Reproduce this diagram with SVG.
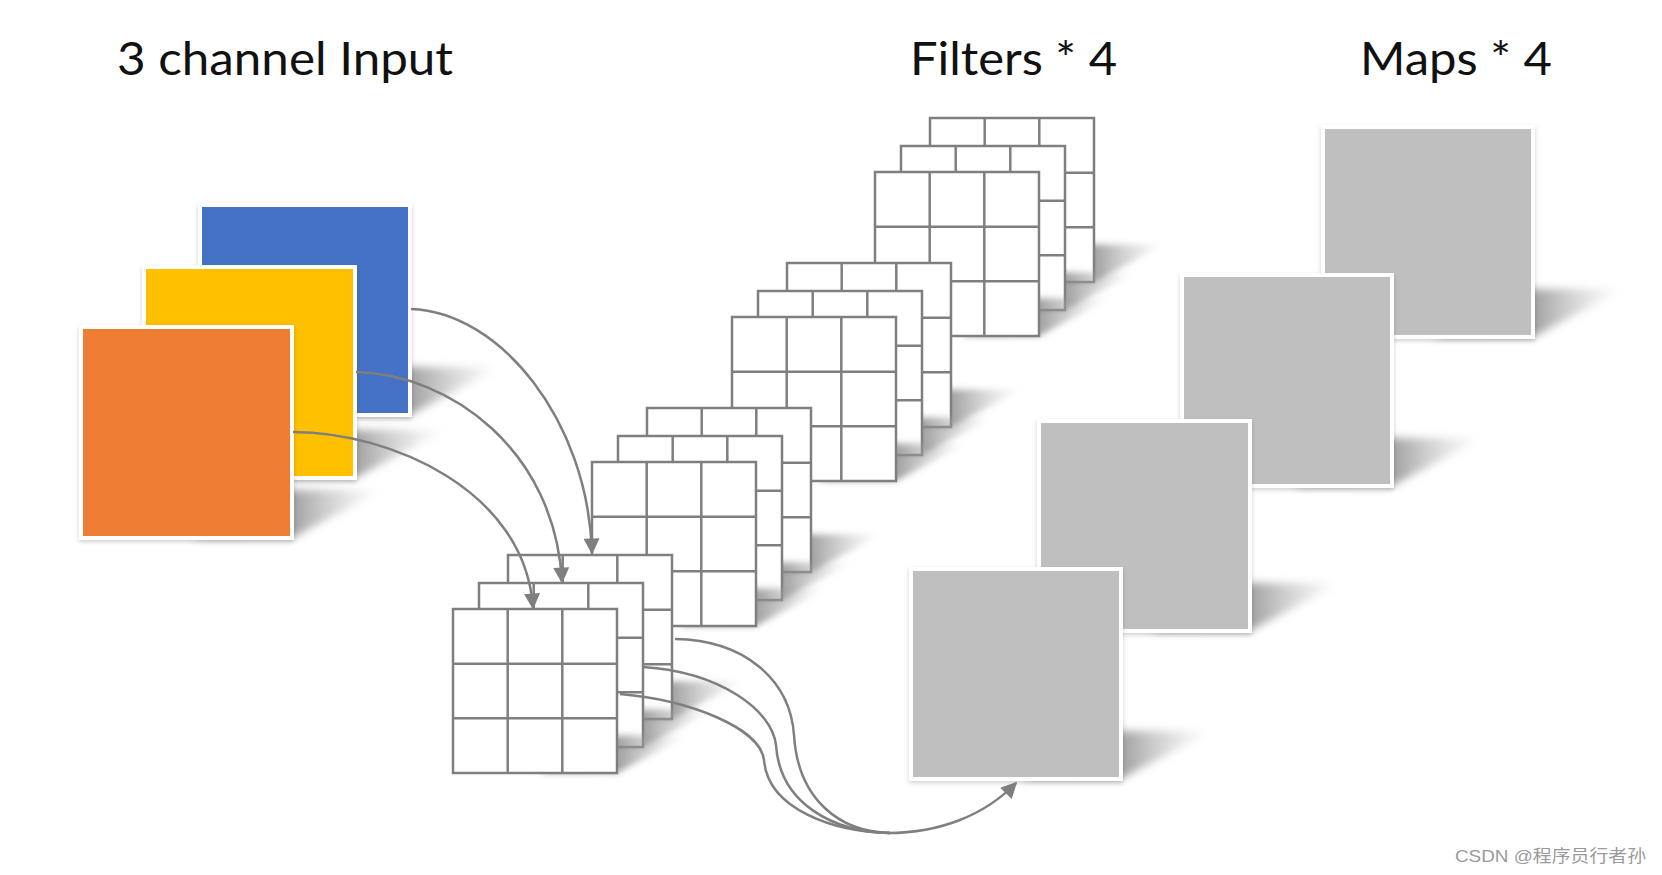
<svg xmlns="http://www.w3.org/2000/svg" xmlns:xlink="http://www.w3.org/1999/xlink" width="1662" height="875" viewBox="0 0 1662 875">
<style>
.title{font-family:Lato,"Open Sans","Liberation Sans",sans-serif;font-size:46px;fill:#111}
.foot{font-family:"Liberation Sans","Noto Sans CJK SC",sans-serif;font-size:17px;fill:#9a9a9a}
.sq{stroke:#fff;stroke-width:4;filter:url(#soft)}
.conn{fill:none;stroke:#7f7f7f;stroke-width:2.5}
</style>
<defs>
<filter id="soft" x="-10%" y="-10%" width="120%" height="125%"><feDropShadow dx="0" dy="2" stdDeviation="2" flood-color="#000" flood-opacity="0.18"/></filter>
<filter id="blur" x="-30%" y="-40%" width="160%" height="180%"><feGaussianBlur stdDeviation="4"/></filter>
<linearGradient id="shg" x1="0" y1="0" x2="1" y2="0">
<stop offset="0" stop-color="#8a8a8a" stop-opacity="0.85"/>
<stop offset="0.53" stop-color="#8a8a8a" stop-opacity="0.8"/>
<stop offset="1" stop-color="#bbb" stop-opacity="0"/>
</linearGradient>
<path id="sh" d="M-100,0 L0,0 L90,-48 L-10,-48 Z" fill="url(#shg)" filter="url(#blur)"/>
<g id="grid">
<rect x="0" y="0" width="164" height="164" fill="#fff" stroke="#7f7f7f" stroke-width="2.5"/>
<path d="M54.7,0V164M109.3,0V164M0,54.7H164M0,109.3H164" fill="none" stroke="#7f7f7f" stroke-width="2.5"/>
</g>
<marker id="ah" viewBox="0 0 10 10" refX="9" refY="5" markerUnits="userSpaceOnUse" markerWidth="20" markerHeight="16" orient="auto">
<path d="M0,0 L10,5 L0,10 Z" fill="#7f7f7f"/>
</marker>
</defs>
<rect width="1662" height="875" fill="#fff"/>

<text class="title" x="117" y="75" textLength="336" lengthAdjust="spacingAndGlyphs">3 channel Input</text>
<text class="title" x="910" y="75" textLength="207" lengthAdjust="spacingAndGlyphs">Filters * 4</text>
<text class="title" x="1360" y="75" textLength="192" lengthAdjust="spacingAndGlyphs">Maps * 4</text>

<g id="input">
<use href="#sh" transform="translate(410,415)"/>
<rect class="sq" x="200" y="205" width="210" height="210" fill="#4472C4"/>
<use href="#sh" transform="translate(355,478)"/>
<rect class="sq" x="144" y="267" width="211" height="211" fill="#FFC000"/>
<use href="#sh" transform="translate(292,538)"/>
<rect class="sq" x="81" y="327" width="211" height="211" fill="#ED7D31"/>
</g>

<g id="filters-4">
<use href="#sh" transform="translate(1094,282) scale(0.78)"/>
<use href="#grid" x="930" y="118"/>
<use href="#sh" transform="translate(1065,310) scale(0.78)"/>
<use href="#grid" x="901" y="146"/>
<use href="#sh" transform="translate(1039,336) scale(0.78)"/>
<use href="#grid" x="875" y="172"/>
</g>
<g id="filters-3">
<use href="#sh" transform="translate(951,427) scale(0.78)"/>
<use href="#grid" x="787" y="263"/>
<use href="#sh" transform="translate(922,455) scale(0.78)"/>
<use href="#grid" x="758" y="291"/>
<use href="#sh" transform="translate(896,481) scale(0.78)"/>
<use href="#grid" x="732" y="317"/>
</g>
<g id="filters-2">
<use href="#sh" transform="translate(811,572) scale(0.78)"/>
<use href="#grid" x="647" y="408"/>
<use href="#sh" transform="translate(782,600) scale(0.78)"/>
<use href="#grid" x="618" y="436"/>
<use href="#sh" transform="translate(756,626) scale(0.78)"/>
<use href="#grid" x="592" y="462"/>
</g>
<g id="filters-1">
<use href="#sh" transform="translate(672,719) scale(0.78)"/>
<use href="#grid" x="508" y="555"/>
<use href="#sh" transform="translate(643,747) scale(0.78)"/>
<use href="#grid" x="479" y="583"/>
<use href="#sh" transform="translate(617,773) scale(0.78)"/>
<use href="#grid" x="453" y="609"/>
</g>

<g id="map-4">
<use href="#sh" transform="translate(1533,337)"/>
<rect class="sq" x="1323" y="127" width="210" height="210" fill="#BFBFBF"/>
</g>
<g id="map-3">
<use href="#sh" transform="translate(1392,486)"/>
<rect class="sq" x="1182" y="275" width="210" height="211" fill="#BFBFBF"/>
</g>
<g id="map-2">
<use href="#sh" transform="translate(1250,631)"/>
<rect class="sq" x="1039" y="421" width="211" height="210" fill="#BFBFBF"/>
</g>
<g id="map-1">
<use href="#sh" transform="translate(1121,779)"/>
<rect class="sq" x="911" y="569" width="210" height="210" fill="#BFBFBF"/>
</g>

<g id="connectors">
<path class="conn" d="M411,309 C500,312 588,420 592,553" marker-end="url(#ah)"/>
<path class="conn" d="M356,372 C450,374 555,450 562,582" marker-end="url(#ah)"/>
<path class="conn" d="M293,432 C390,432 525,490 533,608" marker-end="url(#ah)"/>
<path class="conn" d="M675,639 C745,640 790,680 794,735 C798,800 840,832 890,833"/>
<path class="conn" d="M643,667 C720,672 772,710 776,745 C780,805 835,832 890,833"/>
<path class="conn" d="M620,694 C690,700 760,728 764,760 C768,810 835,832 890,833"/>
<path class="conn" d="M888,833 C940,833 985,815 1016,783" stroke-width="3" marker-end="url(#ah)"/>
</g>

<text class="foot" x="1455" y="862" textLength="191" lengthAdjust="spacingAndGlyphs">CSDN @程序员行者孙</text>
</svg>
